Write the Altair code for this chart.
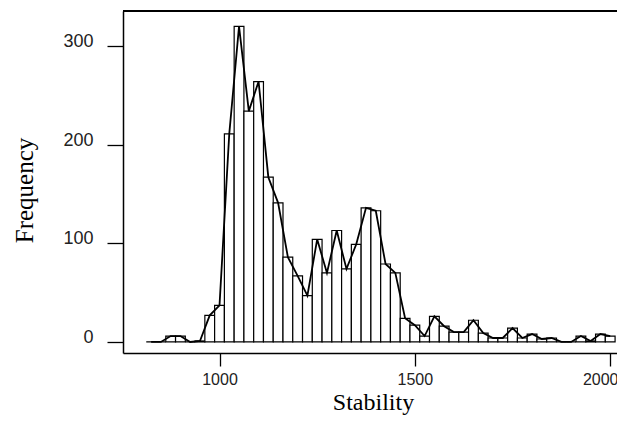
import altair as alt
import pandas as pd

bin_centers = [825, 850, 875, 900, 925, 950, 975, 1000, 1025, 1050, 1075, 1100,
               1125, 1150, 1175, 1200, 1225, 1250, 1275, 1300, 1325, 1350, 1375,
               1400, 1425, 1450, 1475, 1500, 1525, 1550, 1575, 1600, 1625, 1650,
               1675, 1700, 1725, 1750, 1775, 1800, 1825, 1850, 1875, 1900, 1925,
               1950, 1975, 2000]
frequency = [0, 0, 6, 6, 0, 1, 27, 37, 211, 320, 234, 264,
             167, 141, 86, 67, 47, 104, 70, 113, 74, 99, 136,
             133, 79, 70, 24, 17, 6, 26, 16, 10, 10, 22,
             9, 4, 4, 14, 4, 8, 3, 4, 0, 0, 6,
             1, 8, 6]
bin_width = 25
x_ticks = [1000, 1500, 2000]
y_ticks = [0, 100, 200, 300]

df = pd.DataFrame({
    "mid": bin_centers,
    "freq": frequency,
})
df["lo"] = df["mid"] - bin_width / 2
df["hi"] = df["mid"] + bin_width / 2

W = 494
xscale = alt.Scale(domain=[753, 2017.4], nice=False, zero=False)
yscale = alt.Scale(domain=[-11.2, 335.5], nice=False, zero=False)

xaxis = alt.Axis(values=x_ticks, format="d", title="Stability", grid=False,
                 domain=True, domainColor="black", domainWidth=1.5,
                 tickSize=13, tickColor="black", tickWidth=1.3,
                 labelFont="Liberation Sans", labelFontSize=16, labelColor="#222",
                 labelPadding=5, labelBaseline="top", labelFlush=False, labelBound=False,
                 labelOffset={"condition": {"test": "datum.value == 2000", "value": -10},
                              "value": 0},
                 titleFont="Liberation Serif", titleFontSize=24, titleFontWeight="normal",
                 titleColor="black", titleX=250, titleY=56, titleBaseline="alphabetic",
                 titleAlign="center")
yaxis = alt.Axis(values=y_ticks, format="d", title="Frequency", grid=False,
                 domain=True, domainColor="black", domainWidth=1.5,
                 tickSize=16, tickColor="black", tickWidth=1.3,
                 labelFont="Liberation Sans", labelFontSize=18, labelColor="#222",
                 labelPadding=14, labelBaseline="middle", labelOffset=-4.5,
                 titleFont="Liberation Serif", titleFontSize=25, titleFontWeight="normal",
                 titleColor="black", titleAngle=270, titleBaseline="middle",
                 titleAlign="center", titleX=-99, titleY=179)

bars = alt.Chart(df).mark_rect(fill="white", stroke="black", strokeWidth=1.2).encode(
    x=alt.X("lo:Q", scale=xscale, axis=xaxis),
    x2="hi:Q",
    y=alt.Y("freq:Q", scale=yscale, axis=yaxis),
    y2=alt.datum(0),
)

poly = alt.Chart(df).mark_line(color="black", strokeWidth=1.8).encode(
    x=alt.X("mid:Q", scale=xscale),
    y=alt.Y("freq:Q", scale=yscale),
)

top_edge = alt.Chart(df).mark_rule(color="black", strokeWidth=1.5).encode(
    x=alt.value(0), x2=alt.value(W + 20), y=alt.value(0)
)

chart = alt.layer(bars, poly, top_edge).properties(
    width=W, height=342,
    autosize=alt.AutoSizeParams(type="none"),
    padding={"left": 115, "top": 3, "right": 0, "bottom": 63},
).configure_view(strokeWidth=0)

chart.save("out.html", embed_options={"renderer": "svg", "actions": False})
